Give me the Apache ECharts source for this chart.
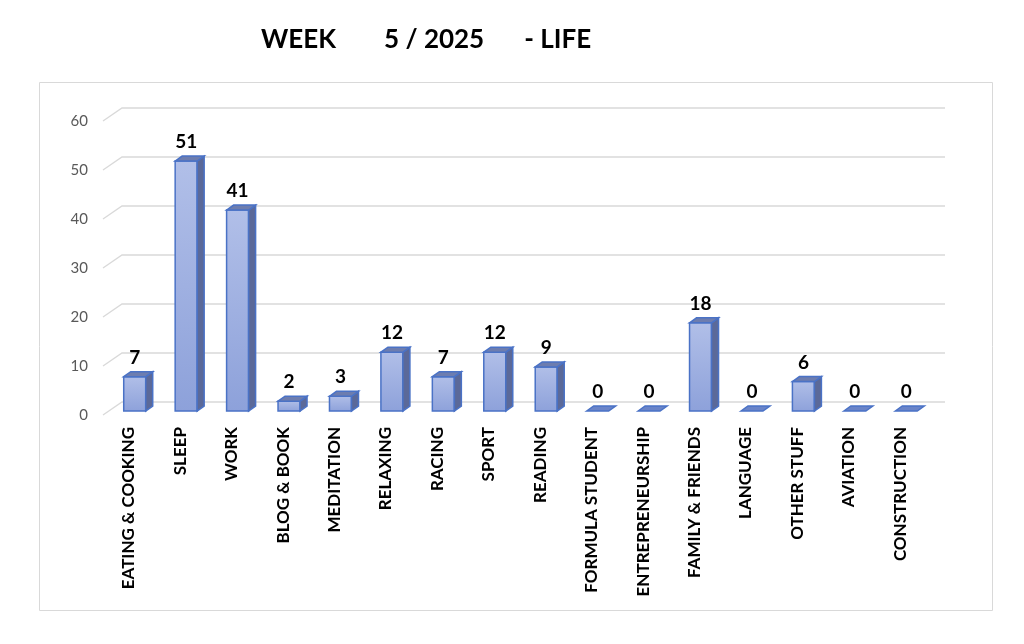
<!DOCTYPE html>
<html>
<head>
<meta charset="utf-8">
<script src="https://cdn.jsdelivr.net/npm/echarts@6/dist/echarts.min.js"></script>
<style>
html,body{margin:0;padding:0;background:#fff;}
#chart{width:1024px;height:644px;}
</style>
</head>
<body>
<div id="chart"></div>
<script>
const categories = ['EATING & COOKING','SLEEP','WORK','BLOG & BOOK','MEDITATION','RELAXING','RACING','SPORT','READING','FORMULA STUDENT','ENTREPRENEURSHIP','FAMILY & FRIENDS','LANGUAGE','OTHER STUFF','AVIATION','CONSTRUCTION'];
const hours = [7,51,41,2,3,12,7,12,9,0,0,18,0,6,0,0];
const yTicks = [0,10,20,30,40,50,60];

const FONT = 'Lato, "Open Sans", sans-serif';
const DEPTH_X = 19, DEPTH_Y = -13;   // floor depth
const SHIFT_X = 6, SHIFT_Y = -4;     // bar front plane offset
const BAR_DX = 7, BAR_DY = -5;       // bar depth
const HALF_W = 11;
const OUTLINE = '#4a72c6';

const chart = echarts.init(document.getElementById('chart'));
chart.setOption({
  animation: false,
  backgroundColor: '#ffffff',
  title: {
    text: '{a|WEEK}{b|5 / 2025}{c|- LIFE}',
    left: 256, top: 22,
    textStyle: {
      rich: {
        a: {fontFamily: FONT, fontWeight: 'bold', fontSize: 26, color: '#000', padding: [0, 48, 0, 0]},
        b: {fontFamily: FONT, fontWeight: 'bold', fontSize: 26, color: '#000', padding: [0, 40, 0, 0]},
        c: {fontFamily: FONT, fontWeight: 'bold', fontSize: 26, color: '#000'}
      }
    }
  },
  graphic: [{
    type: 'rect', left: 37, top: 80, silent: true,
    shape: {width: 953, height: 528},
    style: {fill: 'none', stroke: '#d9d9d9', lineWidth: 1}
  }],
  grid: {left: 103, right: 98, top: 121, bottom: 229, containLabel: false},
  xAxis: {
    type: 'category', data: categories,
    axisLine: {show: false}, axisTick: {show: false},
    axisLabel: {interval: 0, rotate: 90, margin: 12, color: '#000', fontWeight: 'bold', fontSize: 17, fontFamily: FONT}
  },
  yAxis: {
    type: 'value', min: 0, max: 60, interval: 10,
    axisLine: {show: false}, axisTick: {show: false}, splitLine: {show: false},
    axisLabel: {color: '#595959', fontSize: 15, margin: 15, fontFamily: FONT}
  },
  series: [{
    type: 'custom', silent: true, z: 1,
    data: yTicks.map(v => [0, v]),
    encode: {x: 0, y: 1},
    renderItem: function (params, api) {
      const cs = params.coordSys;
      const y = api.coord([0, api.value(1)])[1];
      return {
        type: 'polyline',
        shape: {points: [[cs.x, y], [cs.x + DEPTH_X, y + DEPTH_Y], [cs.x + cs.width + DEPTH_X, y + DEPTH_Y]]},
        style: {stroke: '#d9d9d9', lineWidth: 1.3, fill: 'none'}
      };
    }
  }, {
    type: 'custom', silent: true, z: 2,
    data: hours.map((v, i) => [i, v]),
    encode: {x: 0, y: 1},
    renderItem: function (params, api) {
      const i = api.value(0), v = api.value(1);
      const base = api.coord([i, 0]);
      const topP = api.coord([i, v]);
      const cx = base[0] + SHIFT_X;
      const yb = base[1] + SHIFT_Y;
      const yt = topP[1] + SHIFT_Y;
      const l = cx - HALF_W, r = cx + HALF_W;
      const children = [];
      if (v > 0) {
        children.push({
          type: 'rect', shape: {x: l, y: yt, width: r - l, height: yb - yt},
          style: {
            fill: new echarts.graphic.LinearGradient(0, 0, 0, 1, [{offset: 0, color: '#b1bfe8'}, {offset: 1, color: '#8da1da'}]),
            stroke: OUTLINE, lineWidth: 1.5
          }
        });
        children.push({
          type: 'polygon',
          shape: {points: [[r, yt], [r + BAR_DX, yt + BAR_DY], [r + BAR_DX, yb + BAR_DY], [r, yb]]},
          style: {fill: '#5b6999', stroke: OUTLINE, lineWidth: 1.5}
        });
      }
      children.push({
        type: 'polygon',
        shape: {points: [[l, yt], [l + BAR_DX, yt + BAR_DY], [r + BAR_DX, yt + BAR_DY], [r, yt]]},
        style: {fill: v > 0 ? '#6d7daf' : '#6a84c8', stroke: OUTLINE, lineWidth: 1.5}
      });
      children.push({
        type: 'text',
        style: {text: String(v), x: cx, y: yt - 19, align: 'center', verticalAlign: 'middle',
          font: 'bold 19px ' + FONT, fill: '#000'}
      });
      return {type: 'group', children: children};
    }
  }]
});
</script>
</body>
</html>
